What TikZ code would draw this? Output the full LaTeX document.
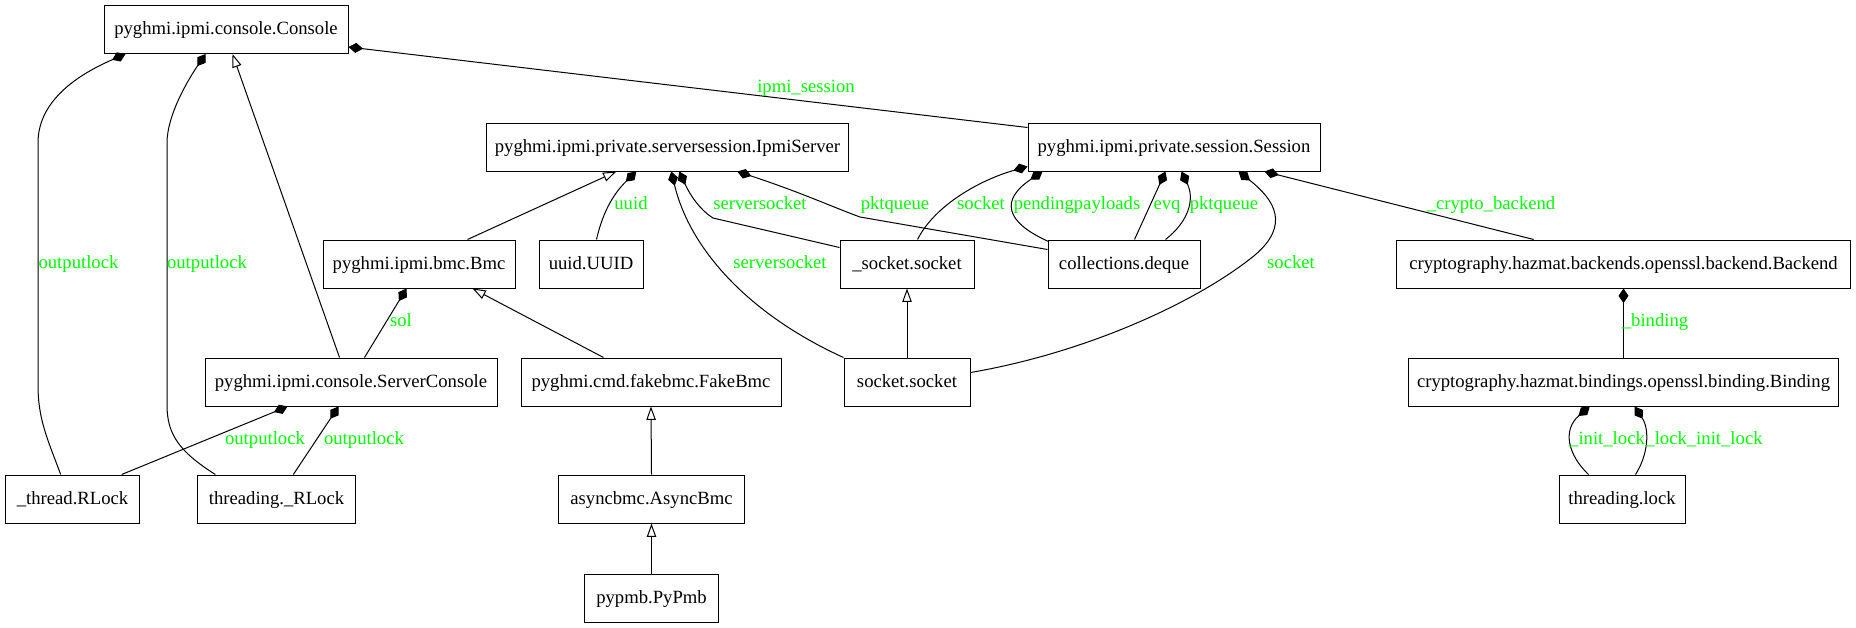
\documentclass[tikz,border=0pt]{standalone}
\usepackage{fontspec}
\setmainfont{Liberation Serif}
\usetikzlibrary{arrows.meta,calc}
\definecolor{lblgreen}{RGB}{0,255,0}
\begin{document}
\begin{tikzpicture}[x=0.75pt,y=-0.75pt,
  cls/.style={draw, rectangle, line width=0.75pt, minimum height=36pt, inner sep=0pt,
    text height=10.5pt, text depth=2.5pt, font=\fontsize{14pt}{16pt}\selectfont},
  lbl/.style={text=lblgreen, inner sep=0pt, text height=10pt, text depth=3pt,
    font=\fontsize{14pt}{16pt}\selectfont},
  comp/.style={draw, line width=0.75pt, -{Diamond[length=11pt,width=7.5pt]}},
  inh/.style={draw, line width=0.75pt, -{Triangle[open,fill=white,length=10pt,width=7pt]}}
]
\useasboundingbox (0,0) rectangle (1856,628);
\fill[white] (0,0) rectangle (1856,628);

% nodes
\node[cls, minimum width=183pt]   (con)     at (226,29.5) {pyghmi.ipmi.console.Console};
\node[cls, minimum width=271pt]   (ipmi)    at (667.5,147) {pyghmi.ipmi.private.serversession.IpmiServer};
\node[cls, minimum width=219pt]   (sess)    at (1174,147) {pyghmi.ipmi.private.session.Session};
\node[cls, minimum width=144pt]   (bmc)     at (419,264) {pyghmi.ipmi.bmc.Bmc};
\node[cls, minimum width=78pt]    (uuid)    at (591,264) {uuid.UUID};
\node[cls, minimum width=100.5pt] (usock)   at (907,264) {\_socket.socket};
\node[cls, minimum width=114pt]   (deque)   at (1124,264) {collections.deque};
\node[cls, minimum width=341pt]   (backend) at (1623.5,264) {cryptography.hazmat.backends.openssl.backend.Backend};
\node[cls, minimum width=219pt]   (scon)    at (351,382) {pyghmi.ipmi.console.ServerConsole};
\node[cls, minimum width=195pt]   (fake)    at (651,382) {pyghmi.cmd.fakebmc.FakeBmc};
\node[cls, minimum width=94.5pt]  (sock)    at (907,382) {socket.socket};
\node[cls, minimum width=323pt]   (binding) at (1623.5,382) {cryptography.hazmat.bindings.openssl.binding.Binding};
\node[cls, minimum width=101pt]   (trl)     at (72.5,499) {\_thread.RLock};
\node[cls, minimum width=118pt]   (trl2)    at (276.5,499) {threading.\_RLock};
\node[cls, minimum width=140pt]   (async)   at (651.5,499) {asyncbmc.AsyncBmc};
\node[cls, minimum width=94.5pt]  (tlock)   at (1622,499) {threading.lock};
\node[cls, minimum width=101pt]   (pypmb)   at (651.5,598) {pypmb.PyPmb};

% edges to Console
\draw[comp] ($(trl.north west)+(56,0)$) .. controls (48,440) and (38,420) .. (38,385) -- (38,143)
  .. controls (38,105) and (70,78) .. ($(con.south west)+(22,0)$);
\draw[comp] ($(trl2.north west)+(18,0)$) .. controls (180,452) and (167,435) .. (167,405) -- (167,143)
  .. controls (167,115) and (188,80) .. ($(con.south west)+(102,0)$);
\draw[inh] ($(scon.north west)+(135,0)$) -- ($(con.south west)+(129,0)$);
\draw[comp] ($(sess.north west)+(0,5)$) -- ($(con.south east)+(0,-7)$);

% edges to Bmc
\draw[comp] ($(scon.north west)+(160,0)$) -- ($(bmc.south west)+(84,0)$);
\draw[inh] ($(fake.north west)+(83,0)$) -- ($(bmc.south west)+(150,0)$);

% edges to IpmiServer
\draw[inh] ($(bmc.north west)+(145,0)$) -- ($(ipmi.south west)+(130,0)$);
\draw[comp] ($(uuid.north west)+(58,0)$) .. controls (602,215) and (612,195) .. ($(ipmi.south west)+(150,0)$);
\draw[comp] ($(usock.north west)+(0,8)$) -- (713,218) .. controls (700,210) and (690,195) .. ($(ipmi.south west)+(193,0)$);
\draw[comp] (sock.north west) .. controls (750,315) and (690,250) .. ($(ipmi.south west)+(185,0)$);
\draw[comp] ($(deque.north west)+(0,10)$) -- (860,217) .. controls (835,208) and (800,192) .. ($(ipmi.south west)+(251,0)$);

% edges to Session
\draw[comp] ($(usock.north west)+(78,0)$) .. controls (935,205) and (980,180) .. ($(sess.south west)+(0,-5)$);
\draw[comp] ($(deque.north west)+(1,2)$) .. controls (1005,222) and (1000,200) .. ($(sess.south west)+(15,0)$);
\draw[comp] ($(deque.north west)+(87,0)$) -- ($(sess.south west)+(138,0)$);
\draw[comp] ($(deque.north west)+(118,0)$) .. controls (1188,222) and (1195,200) .. ($(sess.south west)+(154,0)$);
\draw[comp] ($(sock.north east)+(0,15)$) .. controls (1090,352) and (1200,300) .. (1255,255)
  .. controls (1290,225) and (1275,200) .. ($(sess.south west)+(211,0)$);
\draw[comp] ($(backend.north west)+(138,0)$) -- ($(sess.south west)+(237,0)$);

% crypto
\draw[comp] (binding.north) -- (backend.south);
\draw[comp] ($(tlock.north west)+(30,0)$) .. controls (1568,455) and (1562,430) .. ($(binding.south west)+(182,0)$);
\draw[comp] ($(tlock.north west)+(77,0)$) .. controls (1648,455) and (1650,430) .. ($(binding.south west)+(227,0)$);

% ServerConsole locks
\draw[comp] ($(trl.north west)+(117,0)$) -- ($(scon.south west)+(83,0)$);
\draw[comp] ($(trl2.north west)+(96,0)$) -- ($(scon.south west)+(134,0)$);

% inheritance chains
\draw[inh] (pypmb.north) -- (async.south);
\draw[inh] (async.north) -- (fake.south);
\draw[inh] (sock.north) -- (usock.south);

% labels
\node[lbl] (l1)  at (78.5,264) {outputlock};
\node[lbl] (l2)  at (207,264) {outputlock};
\node[lbl] (l3)  at (401,322) {sol};
\node[lbl] (l4)  at (631,205) {uuid};
\node[lbl] (l5)  at (760,205) {serversocket};
\node[lbl] (l6)  at (780,264) {serversocket};
\node[lbl] (l7)  at (895,205) {pktqueue};
\node[lbl] (l8)  at (981,205) {socket};
\node[lbl] (l9)  at (1077,205) {pendingpayloads};
\node[lbl] (l10) at (1167,205) {evq};
\node[lbl] (l11) at (1224,205) {pktqueue};
\node[lbl] (l12) at (1291,264) {socket};
\node[lbl] (l13) at (1491,205) {\_crypto\_backend};
\node[lbl] (l14) at (1655,322) {\_binding};
\node[lbl] (l15) at (1607,440) {\_init\_lock};
\node[lbl] (l16) at (1704,440) {\_lock\_init\_lock};
\node[lbl] (l17) at (806,88) {ipmi\_session};
\node[lbl] (l18) at (265,440) {outputlock};
\node[lbl] (l19) at (364,440) {outputlock};
\end{tikzpicture}
\end{document}
